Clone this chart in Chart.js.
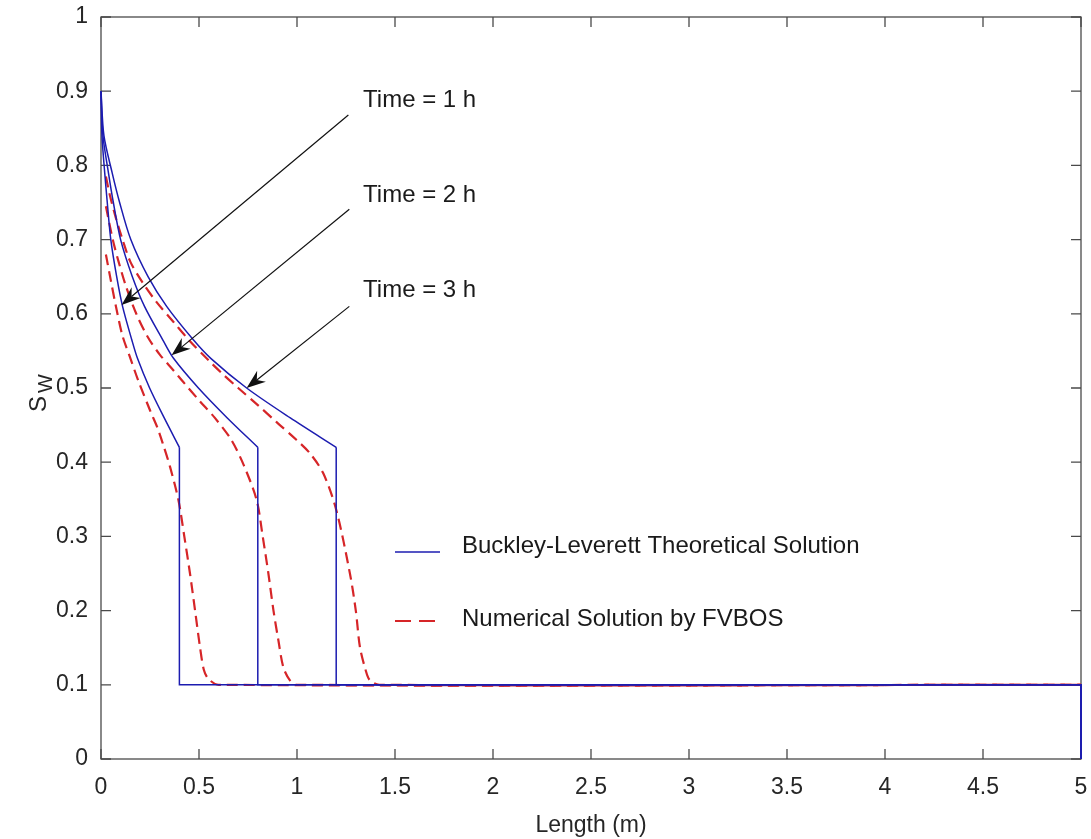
<!DOCTYPE html>
<html>
<head>
<meta charset="utf-8">
<script src="https://cdn.jsdelivr.net/npm/chart.js@4.4.1/dist/chart.umd.min.js"></script>
<style>
  html, body { margin: 0; padding: 0; background: #fff; }
  canvas { display: block; }
</style>
</head>
<body>
<canvas id="chart" width="1091" height="839"></canvas>
<script>
// Buckley-Leverett vs FVBOS - water saturation profiles at 1, 2, 3 h

const xTicks = [0, 0.5, 1, 1.5, 2, 2.5, 3, 3.5, 4, 4.5, 5];
const yTicks = [0, 0.1, 0.2, 0.3, 0.4, 0.5, 0.6, 0.7, 0.8, 0.9, 1];

// theoretical solution: saturation levels and positions (m) for each time
const blueS   = [0.90, 0.84, 0.79, 0.75, 0.70, 0.65, 0.61, 0.565, 0.54, 0.50, 0.46, 0.42];
const blueX1h = [0, 0.005, 0.019, 0.032, 0.050, 0.080, 0.110, 0.157, 0.186, 0.248, 0.322, 0.400];
const blueX2h = [0, 0.010, 0.038, 0.063, 0.100, 0.160, 0.222, 0.315, 0.370, 0.497, 0.643, 0.800];
const blueX3h = [0, 0.015, 0.057, 0.095, 0.152, 0.240, 0.335, 0.471, 0.560, 0.743, 0.964, 1.200];
// shock front drop and the flat initial saturation to the outlet
const tailS = [0.42, 0.1, 0.1, 0];
const tailX1h = [0.4, 0.4, 5, 5];
const tailX2h = [0.8, 0.8, 5, 5];
const tailX3h = [1.2, 1.2, 5, 5];

// numerical solution (FVBOS)
const redX1h = [0.025, 0.05, 0.08, 0.11, 0.15, 0.19, 0.25, 0.29, 0.318, 0.352, 0.395, 0.425, 0.454, 0.48, 0.505, 0.525, 0.548, 0.60, 5];
const redS1h = [0.68, 0.645, 0.605, 0.57, 0.54, 0.51, 0.47, 0.445, 0.423, 0.394, 0.349, 0.30, 0.25, 0.20, 0.151, 0.12, 0.108, 0.10, 0.10];
const redX2h = [0.025, 0.06, 0.09, 0.13, 0.18, 0.24, 0.30, 0.369, 0.42, 0.505, 0.58, 0.665, 0.73, 0.794, 0.825, 0.854, 0.88, 0.905, 0.93, 0.964, 1.0, 5];
const redS2h = [0.745, 0.70, 0.67, 0.635, 0.60, 0.568, 0.545, 0.524, 0.508, 0.482, 0.46, 0.43, 0.395, 0.349, 0.30, 0.25, 0.20, 0.16, 0.124, 0.106, 0.10, 0.10];
const redX3h = [0.025, 0.045, 0.075, 0.11, 0.15, 0.21, 0.28, 0.37, 0.454, 0.55, 0.62, 0.70, 0.80, 0.896, 0.998, 1.066, 1.134, 1.2, 1.27, 1.30, 1.321, 1.35, 1.372, 1.42, 5];
const redS3h = [0.785, 0.76, 0.73, 0.70, 0.67, 0.643, 0.617, 0.589, 0.563, 0.537, 0.519, 0.50, 0.477, 0.454, 0.43, 0.412, 0.385, 0.336, 0.25, 0.20, 0.151, 0.12, 0.106, 0.10, 0.10];

// annotations: label, text anchor and arrow (from -> tip), data units
const noteLabels = ['Time = 1 h', 'Time = 2 h', 'Time = 3 h'];
const noteTextX = [1.337, 1.337, 1.337];
const noteTextY = [0.887, 0.760, 0.631];
const arrowFromX = [1.262, 1.267, 1.267];
const arrowFromY = [0.868, 0.741, 0.610];
const arrowToX = [0.105, 0.360, 0.743];
const arrowToY = [0.612, 0.544, 0.500];

const legendLabels = ['Buckley-Leverett Theoretical Solution', 'Numerical Solution by FVBOS'];

const BLUE = '#1c1cb0';
const RED = '#d62528';
const INK = '#262626';
const FONT = '"Liberation Sans", Arial, Helvetica, sans-serif';

function pts(xs, ys) {
    return xs.map((v, i) => ({ x: v, y: ys[i] }));
}

function blueCurve(xs) {
    return { data: pts(xs, blueS), borderColor: BLUE, borderWidth: 1.5, tension: 0.3, clip: false };
}
function blueTail(xs) {
    return { data: pts(xs, tailS), borderColor: BLUE, borderWidth: 1.5, tension: 0, clip: false };
}
function redCurve(xs, ys) {
    return { data: pts(xs, ys), borderColor: RED, borderWidth: 2.2, borderDash: [11, 6], tension: 0.3, clip: false };
}

const datasets = [
    blueCurve(blueX1h), blueTail(tailX1h),
    blueCurve(blueX2h), blueTail(tailX2h),
    blueCurve(blueX3h), blueTail(tailX3h),
    redCurve(redX1h, redS1h),
    redCurve(redX2h, redS2h),
    redCurve(redX3h, redS3h)
].map(d => Object.assign(d, { showLine: true, pointRadius: 0, fill: false }));

function drawArrow(ctx, x0, y0, x1, y1) {
    const ang = Math.atan2(y1 - y0, x1 - x0);
    const len = 19, half = 7, notch = 13;
    const cx = Math.cos(ang), cy = Math.sin(ang);
    ctx.beginPath();
    ctx.moveTo(x0, y0);
    ctx.lineTo(x1 - cx * notch, y1 - cy * notch);
    ctx.stroke();
    const bx = x1 - cx * len, by = y1 - cy * len;
    const nx = -cy, ny = cx;
    ctx.beginPath();
    ctx.moveTo(x1, y1);
    ctx.lineTo(bx + nx * half, by + ny * half);
    ctx.lineTo(x1 - cx * notch, y1 - cy * notch);
    ctx.lineTo(bx - nx * half, by - ny * half);
    ctx.closePath();
    ctx.fill();
}

const framePlugin = {
    id: 'frame',
    beforeDatasetsDraw(chart) {
        const { ctx, chartArea: a, scales: { x, y } } = chart;
        ctx.save();
        ctx.strokeStyle = '#4a4a4a';
        ctx.lineWidth = 1.3;
        ctx.strokeRect(a.left, a.top, a.right - a.left, a.bottom - a.top);
        ctx.beginPath();
        xTicks.forEach(v => {
            const px = x.getPixelForValue(v);
            ctx.moveTo(px, a.bottom); ctx.lineTo(px, a.bottom - 10);
            ctx.moveTo(px, a.top); ctx.lineTo(px, a.top + 10);
        });
        yTicks.forEach(v => {
            const py = y.getPixelForValue(v);
            ctx.moveTo(a.left, py); ctx.lineTo(a.left + 10, py);
            ctx.moveTo(a.right, py); ctx.lineTo(a.right - 10, py);
        });
        ctx.stroke();
        ctx.restore();
    },
    afterDatasetsDraw(chart) {
        const { ctx, chartArea: a, scales: { x, y } } = chart;
        ctx.save();

        // arrows + time labels
        ctx.strokeStyle = '#111';
        ctx.fillStyle = '#111';
        ctx.lineWidth = 1.2;
        noteLabels.forEach((t, i) => {
            drawArrow(ctx,
                x.getPixelForValue(arrowFromX[i]), y.getPixelForValue(arrowFromY[i]),
                x.getPixelForValue(arrowToX[i]), y.getPixelForValue(arrowToY[i]));
        });
        ctx.fillStyle = '#1a1a1a';
        ctx.font = `24px ${FONT}`;
        ctx.textAlign = 'left';
        ctx.textBaseline = 'middle';
        noteLabels.forEach((t, i) => {
            ctx.fillText(t, x.getPixelForValue(noteTextX[i]), y.getPixelForValue(noteTextY[i]));
        });

        // legend
        const lx = a.left + 294, ly = a.top + 535;
        ctx.strokeStyle = BLUE;
        ctx.lineWidth = 1.5;
        ctx.beginPath();
        ctx.moveTo(lx, ly); ctx.lineTo(lx + 45, ly);
        ctx.stroke();
        ctx.strokeStyle = RED;
        ctx.lineWidth = 2.2;
        ctx.setLineDash([16, 8]);
        ctx.beginPath();
        ctx.moveTo(lx, ly + 69); ctx.lineTo(lx + 45, ly + 69);
        ctx.stroke();
        ctx.setLineDash([]);
        ctx.fillText(legendLabels[0], lx + 67, ly - 6);
        ctx.fillText(legendLabels[1], lx + 67, ly + 67);

        // axis titles
        ctx.fillStyle = INK;
        ctx.font = `23px ${FONT}`;
        ctx.textAlign = 'center';
        ctx.fillText('Length (m)', (a.left + a.right) / 2, 826);

        ctx.translate(46, 412);
        ctx.rotate(-Math.PI / 2);
        ctx.textAlign = 'left';
        ctx.textBaseline = 'alphabetic';
        ctx.font = `24px ${FONT}`;
        ctx.fillText('S', 0, 0);
        const sw = ctx.measureText('S').width;
        ctx.font = `20px ${FONT}`;
        ctx.fillText('W', sw + 3, 6);
        ctx.restore();
    }
};

function fixedTicks(list) {
    return scale => { scale.ticks = list.map(v => ({ value: v })); };
}

new Chart(document.getElementById('chart'), {
    type: 'scatter',
    data: { datasets },
    options: {
        responsive: false,
        animation: false,
        devicePixelRatio: 1,
        layout: { padding: { top: 17, right: 10, left: 0, bottom: 0 } },
        plugins: { legend: { display: false }, tooltip: { enabled: false } },
        scales: {
            x: {
                type: 'linear', min: 0, max: 5,
                afterBuildTicks: fixedTicks(xTicks),
                afterFit: s => { s.height = 80; s.paddingLeft = 0; s.paddingRight = 0; },
                grid: { display: false, drawTicks: false },
                border: { display: false },
                ticks: { color: INK, font: { family: FONT, size: 23 }, padding: 15, maxRotation: 0, autoSkip: false, callback: v => String(v) }
            },
            y: {
                type: 'linear', min: 0, max: 1,
                afterBuildTicks: fixedTicks(yTicks),
                afterFit: s => { s.width = 101; s.paddingTop = 0; s.paddingBottom = 0; },
                grid: { display: false, drawTicks: false },
                border: { display: false },
                ticks: { color: INK, font: { family: FONT, size: 23 }, padding: 13, autoSkip: false, callback: v => String(Math.round(v * 10) / 10) }
            }
        }
    },
    plugins: [framePlugin]
});
</script>
</body>
</html>
